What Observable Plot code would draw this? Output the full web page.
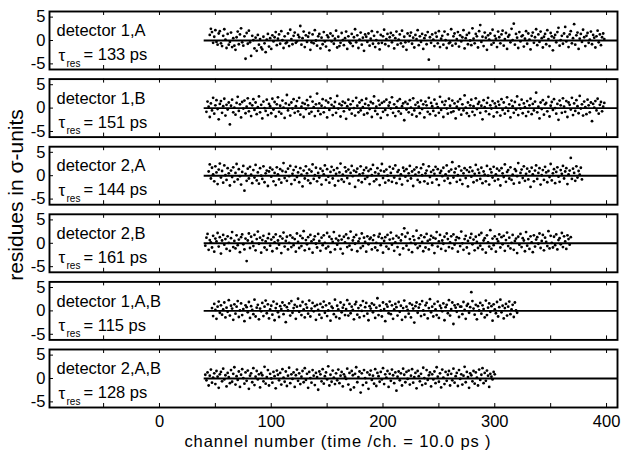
<!DOCTYPE html>
<html><head><meta charset="utf-8">
<script src="https://cdn.jsdelivr.net/npm/d3@7"></script>
<script src="https://cdn.jsdelivr.net/npm/@observablehq/plot@0.6"></script>
<style>
body{margin:0;background:#fff}
#chart{position:relative;width:621px;height:453px}
</style>
</head><body><div id="chart"></div>
<script>
// ---------- data ----------
const panelNames = ["detector 1,A","detector 1,B","detector 2,A","detector 2,B","detector 1,A,B","detector 2,A,B"];
const tauRes = [133,151,144,161,115,128];           // ps
const startChannel = [45,42,44,41,47,41];          // first channel of each residue series
// residues, in tenths of a sigma-unit, one per channel
const res1A = [12,25,18,-5,8,22,-3,-9,15,20,-6,-12,10,24,2,-16,14,-9,-3,17,
-14,5,-11,-20,7,19,-8,13,26,-4,-11,9,-39,16,-7,21,-4,-33,10,1,
-17,6,-22,12,-9,3,-15,-19,8,-6,-25,2,14,-13,5,-18,11,-2,7,18,
-10,4,13,-7,20,1,-16,9,-6,-4,15,-12,23,3,-8,10,17,-5,-2,12,
7,31,-9,5,19,-14,11,-3,8,16,-20,-4,13,-6,22,0,-11,9,14,-17,
6,-8,18,-2,-13,11,7,-21,15,-2,10,-7,4,21,-15,8,-12,-5,16,1,
-10,5,19,-18,9,-3,-6,14,-12,7,24,-4,11,-16,2,17,-9,6,-22,13,
8,-3,15,-11,4,20,-7,10,-14,1,18,-6,-19,12,-5,9,23,-8,3,14,
-12,7,16,-4,11,-17,5,19,-9,2,13,-6,21,-13,8,-4,-20,15,-2,10,
17,-7,6,-15,12,3,22,-10,9,-3,14,-18,5,11,-8,18,-41,7,-5,13,
2,-12,16,8,-6,20,-14,4,10,-9,19,1,-16,13,-6,-4,24,-11,9,15,
-7,3,18,-13,11,-2,7,22,-17,5,12,-8,16,0,-10,26,4,-6,14,9,
-15,20,33,-3,8,-12,17,6,-20,11,2,15,-9,23,-5,10,4,-14,19,7,
-6,13,21,-11,3,16,-18,8,12,-4,25,1,36,-9,14,6,-16,18,-2,9,
11,-13,4,20,-7,15,2,-19,10,17,-5,7,24,-10,13,-3,19,5,-15,8,
14,-8,22,3,-12,16,9,-21,6,12,-4,18,27,-11,1,10,-7,15,29,-2,
8,-14,13,20,-6,5,35,-9,11,17,-18,4,14,-3,23,7,-12,10,16,-5,
2,19,-8,12,6,-15,9,21,-4,13,-10,7,15,3];
const res1B = [-8,14,3,-19,10,-5,22,-12,6,17,-2,-24,9,15,-10,4,20,-16,7,-3,
12,-35,5,18,-9,1,-14,11,24,-6,8,-20,13,-1,16,-11,3,21,-7,10,
-17,6,19,-4,12,-13,2,25,-9,7,-22,14,0,-6,18,-15,9,4,-11,20,
-3,13,-18,8,23,-8,5,-12,16,1,-21,10,28,-5,7,-16,12,-1,19,-10,
4,15,-7,22,-14,3,11,-19,9,-2,17,6,-12,24,-8,14,2,-17,8,31,
-6,10,-13,5,19,-9,1,16,-20,12,-4,21,7,-15,3,13,-10,26,-1,9,
-18,6,14,-7,11,-23,4,18,-3,8,-12,15,0,-16,22,5,-9,12,-5,17,
2,-14,9,20,-11,6,-2,13,-19,10,25,-6,3,-13,16,7,-21,11,-8,14,
-4,18,-15,5,12,-1,23,-10,8,-17,2,15,-7,19,-12,4,10,-26,13,-3,
9,-9,17,1,-14,21,-5,7,-18,12,3,-11,16,-2,8,-20,14,6,-8,22,
-13,11,4,-6,18,-16,9,2,-10,24,-4,13,-19,7,15,-1,-12,20,5,-9,
16,-7,10,-22,3,14,-3,19,-14,8,-5,27,1,-11,12,-17,6,18,-8,4,
-15,21,-2,9,13,-10,5,-24,17,2,-7,11,22,-13,6,-1,15,-18,10,3,
-9,14,7,-16,19,-4,12,-12,1,23,-6,8,-20,16,4,-10,13,-3,25,-15,
7,-1,18,-11,10,2,-17,15,-8,6,20,-13,9,-5,14,33,-9,3,-22,12,
-2,17,-14,8,11,-7,24,-18,5,13,-4,19,0,-12,9,-25,16,6,-10,21,
3,-8,15,-19,12,7,-3,22,-15,10,-6,17,4,-11,26,-1,8,-16,14,2,
-13,18,6,-9,12,-28,9,1,15,-5,20,-12,7,13,-7,3,11];
const res2A = [9,24,-6,17,3,-12,20,7,-18,13,26,-4,10,-15,22,1,-9,16,5,-21,
11,-3,18,-13,6,25,-8,14,-1,-19,8,21,-32,4,-11,15,-6,19,2,-16,
12,-4,23,-10,7,-17,16,0,-7,20,-14,5,11,-22,9,17,-2,13,-12,6,
-20,18,3,-8,14,-15,10,27,-5,8,-11,15,-1,21,-18,4,12,-9,19,-3,
7,-14,16,2,-23,11,-6,20,5,-10,13,-16,9,24,-7,1,17,-12,6,-4,
15,-19,10,3,22,-9,14,-2,-15,8,19,-6,12,-21,4,16,-11,7,26,-8,
2,-13,18,9,-5,13,-17,6,21,-1,11,-24,8,15,-10,3,20,-14,5,12,
-7,17,-3,10,-18,14,1,23,-12,7,-8,16,4,-20,11,25,-5,9,-15,13,
0,-10,19,6,-13,15,-4,22,-16,8,12,-7,3,-19,17,10,-2,14,-11,5,
21,-6,9,-22,13,2,18,-9,7,-14,16,1,24,-12,5,11,-17,20,-3,8,
-15,12,4,19,-8,14,-20,6,10,-1,17,-11,3,22,-6,9,-16,13,29,-4,
7,15,-13,1,20,-9,11,-18,5,16,-5,12,-23,8,18,-2,10,-14,4,23,
-10,13,6,-7,17,-16,9,2,-12,21,0,-19,14,7,-4,19,-11,3,15,-8,
11,-21,16,5,-3,24,-13,8,12,-6,18,-9,2,-17,14,10,-1,27,-15,6,
13,-5,20,-11,4,15,-8,9,-24,17,3,-12,11,22,-7,6,16,-19,1,12,
-9,19,7,-14,10,-3,25,-10,5,14,-16,8,18,-2,-13,12,4,21,-6,9,
16,-18,3,11,38,-7,15,6,-11,20,-4,10,2,17,-8];
const res2B = [-5,12,20,-14,7,2,-9,16,-18,10,4,22,-7,13,-22,6,18,-3,9,-12,
15,1,-16,11,24,-8,5,-11,17,-4,8,-19,13,19,-2,-13,10,-38,6,21,
-10,14,3,-6,18,-15,9,25,-1,12,-20,7,16,-9,4,-14,11,20,-5,8,
-17,13,2,19,-11,6,-3,15,-21,10,23,-7,5,14,-13,1,17,-8,12,-4,
9,-18,21,3,-10,16,-6,11,26,-15,7,-2,13,-12,18,4,-20,8,15,-1,
-9,20,5,-16,12,-4,17,1,-11,22,-7,14,-19,9,3,24,-13,10,-3,6,
16,-12,8,-22,14,2,19,-8,11,-5,25,-14,6,13,-1,18,-17,4,10,-10,
21,-6,12,3,-18,15,-2,9,12,-13,7,17,-9,1,-15,14,20,-4,11,-20,
5,13,-7,18,-12,8,23,-3,10,-16,2,16,-8,12,-24,6,19,-11,32,14,
-5,22,-14,9,1,-19,15,7,-2,27,-10,11,-6,17,3,-17,13,-9,20,5,
-13,8,16,-4,12,-21,10,24,-7,4,18,-12,6,-1,14,-16,21,9,-8,2,
15,-11,19,-3,7,13,-18,11,-6,25,0,-14,9,16,-9,5,-22,12,20,-2,
8,-15,14,3,-10,18,-5,22,-13,6,11,-20,17,2,-7,28,-12,10,-4,15,
-18,9,4,19,-9,13,-2,16,-16,7,23,-6,12,-11,1,18,-14,5,10,-21,
14,-3,20,-8,11,6,-17,24,-5,9,-12,15,2,-19,17,-7,8,13,-1,21,
-10,5,18,-15,12,3,-6,26,-11,16,1,-9,14,-4,19,-13,7,11,-2,22,
-8,15,4,-12,17,9,-3,13];
const res1AB = [6,-11,15,2,-17,9,20,-4,12,-8,3,18,-14,7,-2,23,-10,11,5,-19,
14,-6,9,21,-13,1,16,-9,4,-22,12,8,-3,19,-15,10,2,-7,24,-12,
7,13,-18,5,-1,17,-11,9,22,-5,14,-16,3,11,-8,20,-20,6,15,-3,
-13,10,4,18,-7,12,-24,8,1,16,-10,21,-4,6,13,-17,9,26,-2,11,
-9,19,3,-14,14,7,-6,22,-12,5,17,-1,10,-19,13,2,-8,15,-15,8,
20,-4,12,-11,1,16,-21,9,6,-7,24,-13,11,3,-16,18,-3,7,13,-9,
4,23,-10,15,-5,9,2,-18,14,19,-8,6,-14,12,0,21,-11,8,17,-6,
-20,10,5,16,-3,13,-15,7,27,-9,11,1,-12,18,4,-22,14,9,-5,20,
-7,12,-17,3,15,8,-10,19,-2,11,-19,6,22,-13,9,2,-6,16,-14,13,
5,-25,10,18,-4,7,14,-11,21,1,-8,12,17,-16,6,25,-3,9,-12,15,
3,-9,20,-15,11,6,-1,16,-20,8,13,-5,23,-10,4,18,-28,12,7,-2,
14,-13,9,9,-7,19,2,-17,11,15,-4,8,40,21,5,-8,13,-18,10,1,
17,-6,12,4,-14,22,-9,7,16,-2,10,-21,14,3,-5,19,-12,8,24,-3,
11,-16,6,15,-10,9,20,-7,3,13,-13,18,1,-4];
const res2AB = [8,-4,13,-15,6,19,-9,2,11,-12,16,4,-20,9,14,-6,21,-2,7,-17,
12,3,-10,18,-7,10,24,-13,5,-3,15,-18,8,20,1,-11,13,-5,17,-22,
6,11,-8,22,-14,4,16,-2,9,-19,12,7,-6,25,-11,3,18,-15,10,0,
-9,14,5,-21,17,8,-4,12,-13,20,2,-7,15,-16,6,23,-10,9,-1,13,
-18,7,19,-5,11,-12,4,16,-8,22,-3,10,-20,14,1,-9,18,6,-14,12,
3,-24,15,9,-6,20,-11,5,13,-2,26,-15,8,-7,17,2,-12,11,-4,19,
-10,6,14,-17,9,4,-1,21,-13,12,-24,16,7,-19,10,24,-8,3,15,-30,
11,-14,18,1,-9,13,-22,8,17,-3,6,-11,20,-16,12,5,-7,14,-2,22,
-12,9,2,16,-18,10,-5,19,7,-10,13,-26,4,15,-4,11,-15,21,8,-8,
14,-1,17,-13,6,20,-9,3,12,-21,16,5,-6,10,-14,23,1,-11,18,-3,
7,13,-17,9,-2,15,-10,24,4,-7,11,-19,19,2,-12,14,-5,8,16,-15,
10,-4,21,-9,5,12,-16,18,-1,9,-13,6,25,-8,14,3,-20,11,7,-6,
16,-11,13,2,-15,19,-3,8,22,-10,12,-5,17,6,-18,10,4,-2,14,9];
const yTicks = [-5,0,5];
const xTickLabels = [0,100,200,300,400];
const xTickMarks = [-50,0,50,100,150,200,250,300,350,400];
const zeroLine = [{y:0, x1:40, x2:410}];
const xTitle = "channel number (time /ch. = 10.0 ps )";
const yTitle = "residues in σ-units";

// ---------- build ----------
const series = [res1A,res1B,res2A,res2B,res1AB,res2AB];
const points = series.flatMap((arr,k)=>arr.map((v,i)=>({panel:panelNames[k], channel:startChannel[k]+i, residue:v/10})));
const panels = panelNames.map((name,k)=>({panel:name, eq:`= ${tauRes[k]} ps`}));

const W=621,H=453,mL=49,mR=4,mT=11,mB=46;
const FONT = "'Liberation Sans', Arial, Helvetica, sans-serif";
const plotW = W-mL-mR;

const svg = Plot.plot({
  width:W, height:H, marginLeft:mL, marginRight:mR, marginTop:mT, marginBottom:mB,
  style:{fontFamily:FONT, background:"white", color:"black", overflow:"visible"},
  x:{domain:[-98.4,409.8]},
  y:{domain:[-6.2,6.2]},
  fy:{domain:panelNames, axis:null, paddingInner:0.142, paddingOuter:0, round:false},
  marks:[
    Plot.ruleY(zeroLine,{y:"y", x1:"x1", x2:"x2", stroke:"black", strokeWidth:1.9}),
    Plot.dot(points,{x:"channel", y:"residue", fy:"panel", r:1.4, fill:"black", stroke:null}),
    Plot.tickX(xTickMarks,{x:d=>d, insetBottom:54, stroke:"black", strokeWidth:1}),
    Plot.tickX(xTickMarks,{x:d=>d, insetTop:54, stroke:"black", strokeWidth:1}),
    Plot.tickY(yTicks,{y:d=>d, insetRight:plotW-4, stroke:"black", strokeWidth:1}),
    Plot.frame({stroke:"black", strokeWidth:1.9}),
    Plot.axisY({ticks:yTicks, tickSize:0, tickPadding:4, tickFormat:d=>String(d), fontSize:16.5, label:null}),
    Plot.axisX({ticks:xTickLabels, tickSize:0, tickPadding:8, tickFormat:d=>String(d), fontSize:16.5, label:null}),
    Plot.text(panels,{fy:"panel", text:"panel", frameAnchor:"top-left", dx:7, dy:13, lineAnchor:"top", textAnchor:"start", fontSize:16.5, fill:"black"}),
    Plot.text(panels,{fy:"panel", text:()=>"τ", frameAnchor:"top-left", dx:9, dy:37, lineAnchor:"top", textAnchor:"start", fontSize:17, fill:"black"}),
    Plot.text(panels,{fy:"panel", text:()=>"res", frameAnchor:"top-left", dx:17, dy:48, lineAnchor:"top", textAnchor:"start", fontSize:10, fill:"black"}),
    Plot.text(panels,{fy:"panel", text:"eq", frameAnchor:"top-left", dx:34, dy:37, lineAnchor:"top", textAnchor:"start", fontSize:16.5, fill:"black"})
  ]
});

const root = d3.select(svg);
root.append("text")
  .attr("transform","translate(17,195) rotate(-90)")
  .attr("text-anchor","middle")
  .attr("dominant-baseline","middle")
  .attr("font-family",FONT)
  .attr("font-size",21)
  .attr("fill","black")
  .text(yTitle);
root.append("text")
  .attr("x",338).attr("y",447)
  .attr("text-anchor","middle")
  .attr("font-family",FONT)
  .attr("font-size",16.5)
  .attr("letter-spacing","0.9px")
  .attr("fill","black")
  .text(xTitle);

document.getElementById("chart").appendChild(svg);
</script>
</body></html>
